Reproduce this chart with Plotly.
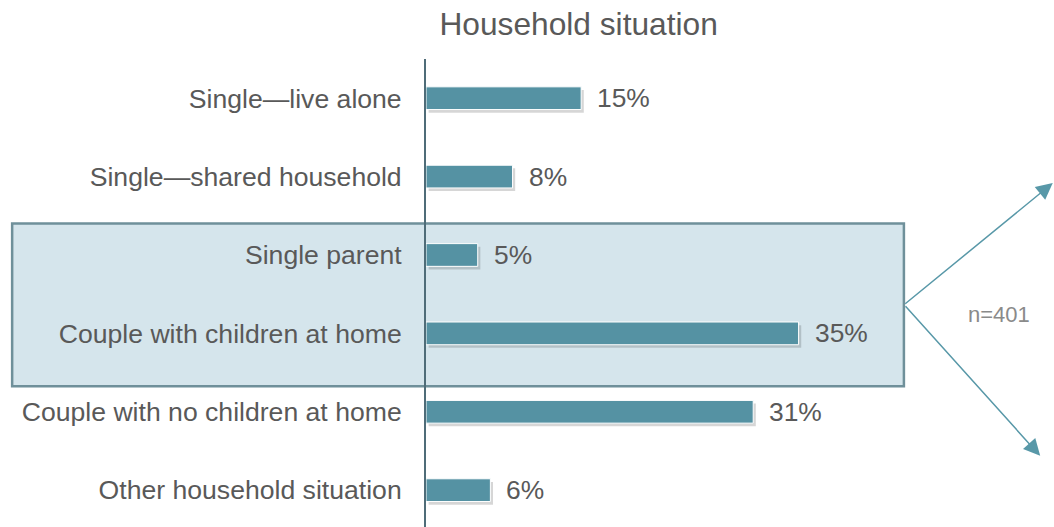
import plotly.graph_objects as go

categories = [
    "Single\u2014live alone",
    "Single\u2014shared household",
    "Single parent",
    "Couple with children at home",
    "Couple with no children at home",
    "Other household situation",
]
values = [14.7, 8.2, 4.9, 35.3, 31.0, 6.1]
value_labels = ["15%", "8%", "5%", "35%", "31%", "6%"]
title_text = "Household situation"
sample_text = "n=401"

BAR = "#5592a3"
TEXT = "#595959"
FONT = "Liberation Sans, Arial"

fig = go.Figure()

# soft drop shadow
fig.add_trace(go.Bar(
    y=categories, x=values, orientation="h", base=0.25,
    width=0.29, offset=-0.145 + 0.04,
    marker=dict(color="rgba(0,0,0,0.16)", line=dict(width=0)),
    hoverinfo="skip", showlegend=False,
))
fig.add_trace(go.Bar(
    y=categories, x=values, orientation="h",
    width=0.29, offset=-0.145,
    marker=dict(color=BAR, line=dict(color="white", width=1)),
    showlegend=False,
))

for c, v, t in zip(categories, values, value_labels):
    fig.add_annotation(x=v, y=c, xref="x", yref="y", text=t, showarrow=False,
                       xanchor="left", yanchor="middle", xshift=14,
                       font=dict(size=26.4, color=TEXT, family=FONT))

# highlight box
fig.add_shape(type="rect", xref="paper", yref="paper",
              x0=-0.659, x1=0.761, y0=0.301, y1=0.6485,
              fillcolor="#d5e5ec", line=dict(color="#6f909a", width=2.5),
              layer="below")

# arrows
for ax, ay, x, y in [(-149, 122, 0.998, 0.735), (-136, -151, 0.978, 0.152)]:
    fig.add_annotation(x=x, y=y, xref="paper", yref="paper", text="",
                       showarrow=True, ax=ax, ay=ay, axref="pixel", ayref="pixel",
                       arrowhead=2, arrowsize=2.2, arrowwidth=1.5, arrowcolor="#5898a8",
                       standoff=0, startstandoff=0)

fig.add_annotation(x=0.912, y=0.453, xref="paper", yref="paper", text=sample_text,
                   showarrow=False, xanchor="center", yanchor="middle",
                   font=dict(size=22, color="#8a8a8a", family=FONT))

fig.update_layout(
    width=1054, height=527,
    margin=dict(l=426, r=0, t=59, b=0),
    paper_bgcolor="white", plot_bgcolor="rgba(0,0,0,0)",
    barmode="overlay",
    font=dict(family=FONT, color=TEXT),
    title=dict(text=title_text, xref="container", yref="container",
               x=0.549, y=0.954, xanchor="center", yanchor="middle",
               font=dict(size=31.7, color=TEXT)),
    xaxis=dict(range=[0, 59.5], visible=False, fixedrange=True),
    yaxis=dict(categoryorder="array", categoryarray=categories,
               range=[5.47, -0.5], showline=True, linecolor="#4f6c78", linewidth=2,
               showgrid=False, zeroline=False, ticks="", ticklabelstandoff=17,
               tickfont=dict(size=26.6, color=TEXT), fixedrange=True),
)

fig.write_html("out.html", config={"displayModeBar": False},
               post_script="document.body.style.margin='0';document.body.style.overflow='hidden';")
